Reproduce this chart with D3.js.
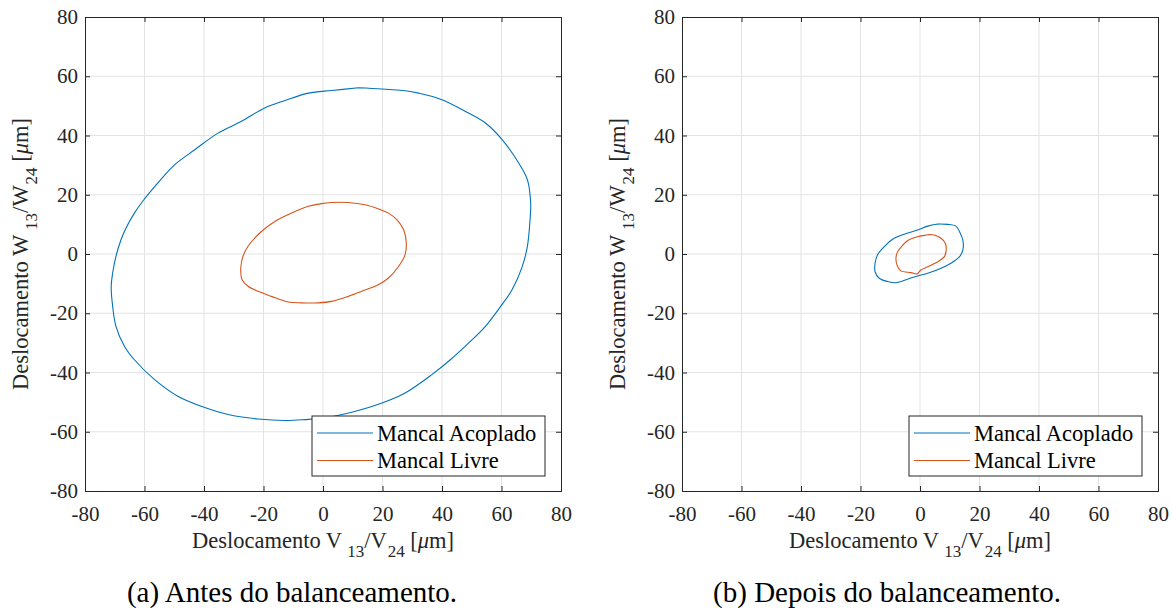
<!DOCTYPE html>
<html>
<head>
<meta charset="utf-8">
<script src="https://cdn.jsdelivr.net/npm/d3@7"></script>
<style>
  html, body { margin: 0; padding: 0; background: #fff; }
  svg { display: block; font-family: "Liberation Serif", "Times New Roman", serif; }
</style>
</head>
<body>
<svg id="chart" width="1172" height="615"></svg>
<script>
// ---- data ----
const xTicks = [-80, -60, -40, -20, 0, 20, 40, 60, 80];
const yTicks = [-80, -60, -40, -20, 0, 20, 40, 60, 80];
const seriesNames = ["Mancal Acoplado", "Mancal Livre"];
const captions = ["(a) Antes do balanceamento.", "(b) Depois do balanceamento."];

// Panel (a): before balancing  [V, W]
const antesAcoplado = [
  [11.9,56.1],[19.8,55.7],[27.6,55.1],[32.1,54.3],[40,52.1],[47.9,48.1],[54.6,44.2],[60.2,38.6],
  [65.8,30.7],[68.7,25.1],[69.8,17.2],[69.6,11.6],[68.7,2.6],[67,-4.2],[63.6,-12],[59.7,-17.7],
  [54.6,-24.4],[49,-30],[42.8,-35.7],[36.6,-40.7],[27.6,-46.9],[19.8,-50.3],[9.7,-53.4],[0.7,-55.3],
  [-6.1,-55.9],[-12.8,-56.2],[-21.8,-55.7],[-31.9,-54.2],[-40.9,-51.4],[-48.8,-48],[-56.6,-42.4],
  [-63.4,-35.7],[-66.7,-31.2],[-69.6,-24.4],[-70.7,-17.7],[-71.2,-10.9],[-70.7,-6.4],[-69.6,-0.8],
  [-67.9,4.8],[-66.2,8.8],[-63.4,13.8],[-60.6,17.8],[-55.5,24],[-49.9,30.1],[-43.1,35.2],[-35.3,40.8],
  [-27.4,44.8],[-19.6,49.3],[-12.8,51.8],[-4.9,54.3],[2.9,55.2],[11.9,56.1]
];
const antesLivre = [
  [2.9,17.4],[8.5,17.4],[14.2,16.6],[18.7,15.2],[22,13.8],[24.8,11.6],[27.1,8.2],[28,3.7],
  [27.6,-0.2],[25.4,-4.2],[22,-8.1],[18.7,-10.3],[13,-12.6],[8.5,-14.3],[2.9,-16],[-1.6,-16.5],
  [-7.2,-16.5],[-11.7,-16.2],[-17.3,-14.3],[-21.8,-12.6],[-25.2,-10.9],[-27.2,-8.7],[-27.6,-4.2],
  [-26.9,-0.8],[-25.2,2.6],[-20.7,7.6],[-16.2,11],[-10.6,13.8],[-4.9,16.1],[-0.4,17],[2.9,17.4]
];
// Panel (b): after balancing  [V, W]
const depoisAcoplado = [
  [6,10.1],[9.3,10],[12.1,9.4],[13.3,7.5],[14.4,4.7],[14.4,1.3],[13.3,-0.9],[10.4,-3.1],[7.1,-4.8],
  [2.6,-6.5],[-0.8,-7.4],[-4.2,-8.5],[-8.1,-9.7],[-10.9,-9.3],[-13.7,-8.2],[-15.1,-6],[-15.1,-3.1],
  [-14.3,-0.3],[-12,2.5],[-8.7,5.3],[-5.3,6.7],[-0.8,8.1],[2.6,9.4],[6,10.1]
];
const depoisLivre = [
  [3.1,6.6],[4.8,6.4],[7.1,5.3],[8.5,3.6],[8.8,1.3],[8.2,-0.9],[6,-2.6],[2.6,-4.3],[0.3,-5.4],
  [-1,-6.7],[-3,-6.3],[-6.4,-5.7],[-7.5,-4.3],[-8.1,-1.5],[-7.5,0.8],[-5.8,3],[-4.2,4.5],
  [-0.8,5.8],[1.5,6.3],[3.1,6.6]
];

// ---- drawing ----
const colors = ["#0072BD", "#D95319"];
const axisColor = "#262626";
const gridColor = "#e3e3e3";
const svg = d3.select("#chart");

const panels = [
  { left: 85, data: [antesAcoplado, antesLivre], caption: captions[0], capX: 292 },
  { left: 682, data: [depoisAcoplado, depoisLivre], caption: captions[1], capX: 887 }
];
const plotTop = 17, plotW = 476, plotH = 474;
const fs = 21;

function labelText(sel, letter) {
  sel.append("tspan").text("Deslocamento " + letter);
  sel.append("tspan").attr("dx", 5).attr("dy", 9).style("font-size", "17px").text("13");
  sel.append("tspan").attr("dy", -9).text("/" + letter);
  sel.append("tspan").attr("dx", 1).attr("dy", 9).style("font-size", "17px").text("24");
  sel.append("tspan").attr("dy", -9).text(" [");
  sel.append("tspan").style("font-style", "italic").text("\u03bc");
  sel.append("tspan").text("m]");
}

panels.forEach(p => {
  const g = svg.append("g").attr("transform", `translate(${p.left},${plotTop})`);
  const x = d3.scaleLinear().domain([-80, 80]).range([0, plotW]);
  const y = d3.scaleLinear().domain([-80, 80]).range([plotH, 0]);

  // grid
  g.append("g").selectAll("line").data(xTicks.slice(1, -1)).join("line")
    .attr("x1", d => x(d)).attr("x2", d => x(d)).attr("y1", 0).attr("y2", plotH)
    .attr("stroke", gridColor).attr("stroke-width", 1);
  g.append("g").selectAll("line").data(yTicks.slice(1, -1)).join("line")
    .attr("y1", d => y(d)).attr("y2", d => y(d)).attr("x1", 0).attr("x2", plotW)
    .attr("stroke", gridColor).attr("stroke-width", 1);

  // curves
  const line = d3.line().x(d => x(d[0])).y(d => y(d[1])).curve(d3.curveCatmullRom.alpha(0.5));
  p.data.forEach((s, i) => {
    g.append("path").datum(s).attr("d", line)
      .attr("fill", "none").attr("stroke", colors[i]).attr("stroke-width", 1.1);
  });

  // axes (ticks inward, box)
  const tickLen = 5;
  const fmt = d => String(d);
  const axB = g.append("g").attr("transform", `translate(0,${plotH})`)
    .call(d3.axisBottom(x).tickValues(xTicks).tickSize(-tickLen).tickPadding(15).tickFormat(fmt));
  const axT = g.append("g")
    .call(d3.axisTop(x).tickValues(xTicks).tickSize(-tickLen).tickFormat(""));
  const axL = g.append("g")
    .call(d3.axisLeft(y).tickValues(yTicks).tickSize(-tickLen).tickPadding(7).tickFormat(fmt));
  const axR = g.append("g").attr("transform", `translate(${plotW},0)`)
    .call(d3.axisRight(y).tickValues(yTicks).tickSize(-tickLen).tickFormat(""));
  [axB, axT, axL, axR].forEach(a => {
    a.select(".domain").attr("stroke", axisColor).attr("stroke-width", 1);
    a.selectAll(".tick line").attr("stroke", axisColor);
    a.selectAll(".tick text").attr("fill", axisColor)
      .style("font-family", '"Liberation Serif", serif').style("font-size", fs + "px");
  });
  axB.selectAll(".tick text").attr("dy", "0.71em");

  // x label
  const xl = g.append("text").attr("x", plotW / 2).attr("y", plotH + 57)
    .attr("text-anchor", "middle").attr("fill", axisColor).style("font-size", "22.5px");
  labelText(xl, "V");

  // y label
  const yl = g.append("text").attr("transform", `translate(-57,${plotH / 2}) rotate(-90)`)
    .attr("text-anchor", "middle").attr("fill", axisColor).style("font-size", "22.5px");
  labelText(yl, "W");

  // legend
  const lg = g.append("g").attr("transform", `translate(${plotW - 249},${plotH - 75})`);
  lg.append("rect").attr("width", 233).attr("height", 60)
    .attr("fill", "#fff").attr("stroke", axisColor).attr("stroke-width", 1);
  seriesNames.forEach((n, i) => {
    const cy = 17 + i * 27.5;
    lg.append("line").attr("x1", 5).attr("x2", 61).attr("y1", cy).attr("y2", cy)
      .attr("stroke", colors[i]).attr("stroke-width", 1.1);
    lg.append("text").attr("x", 65).attr("y", cy).attr("dy", "0.35em")
      .attr("fill", "#000").style("font-size", "22.5px").text(n);
  });

  // caption
  svg.append("text").attr("x", p.capX).attr("y", 602)
    .attr("text-anchor", "middle").attr("fill", "#000").style("font-size", "29px")
    .text(p.caption);
});
</script>
</body>
</html>
